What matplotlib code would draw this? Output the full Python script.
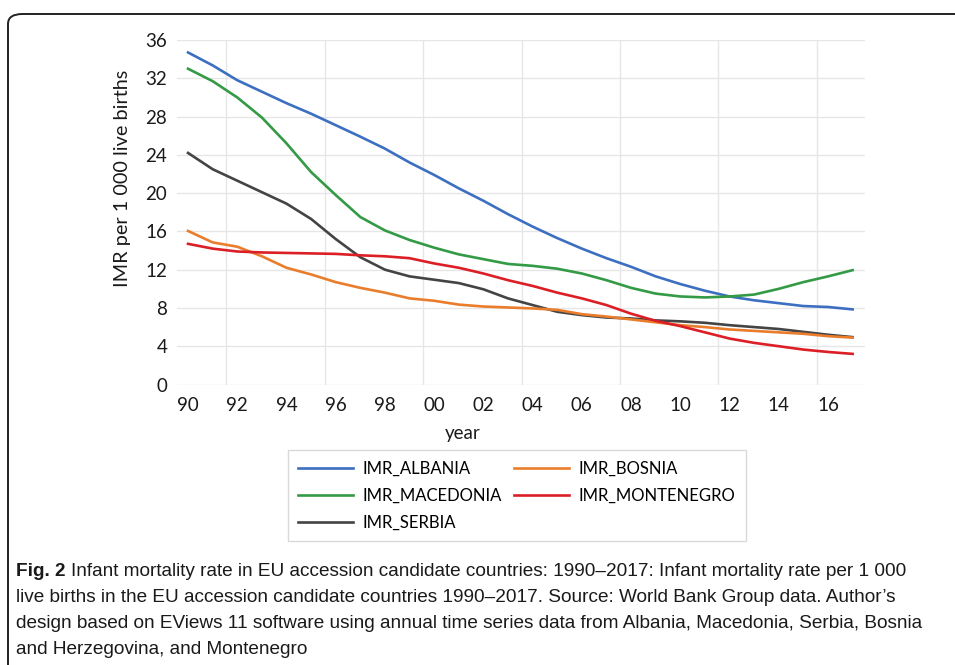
import numpy as np
import matplotlib.pyplot as plt
from matplotlib.patches import FancyBboxPatch

# IMR per 1 000 live births
years = np.arange(1990, 2018)

albania = [34.7, 33.35, 31.8, 30.6, 29.4, 28.3, 27.1, 25.9, 24.65, 23.2,
           21.9, 20.5, 19.2, 17.8, 16.5, 15.3, 14.2, 13.2, 12.3, 11.3,
           10.5, 9.8, 9.2, 8.8, 8.5, 8.2, 8.1, 7.85]
macedonia = [33.0, 31.7, 30.0, 27.9, 25.2, 22.2, 19.8, 17.5, 16.1, 15.1,
             14.3, 13.6, 13.1, 12.6, 12.4, 12.1, 11.6, 10.9, 10.1, 9.5,
             9.2, 9.1, 9.2, 9.4, 10.0, 10.7, 11.3, 11.95]
serbia = [24.2, 22.5, 21.3, 20.1, 18.9, 17.3, 15.2, 13.3, 12.0, 11.3,
          10.95, 10.6, 9.95, 9.0, 8.3, 7.6, 7.25, 7.0, 6.9, 6.7,
          6.6, 6.45, 6.2, 6.0, 5.8, 5.5, 5.2, 4.95]
bosnia = [16.05, 14.85, 14.4, 13.4, 12.2, 11.5, 10.7, 10.1, 9.6, 9.0,
          8.75, 8.35, 8.15, 8.05, 7.95, 7.8, 7.35, 7.1, 6.8, 6.5,
          6.2, 6.0, 5.75, 5.6, 5.45, 5.3, 5.05, 4.9]
montenegro = [14.7, 14.2, 13.9, 13.8, 13.75, 13.7, 13.65, 13.5, 13.4, 13.2,
              12.65, 12.2, 11.6, 10.9, 10.3, 9.6, 9.0, 8.3, 7.4, 6.65,
              6.1, 5.45, 4.8, 4.35, 4.0, 3.65, 3.4, 3.2]

series = {
    'IMR_ALBANIA': (albania, '#3d6fc1'),
    'IMR_MACEDONIA': (macedonia, '#339a45'),
    'IMR_SERBIA': (serbia, '#444444'),
    'IMR_BOSNIA': (bosnia, '#ea7d2c'),
    'IMR_MONTENEGRO': (montenegro, '#dc1f26'),
}

plt.rcParams['font.family'] = ['Lato', 'DejaVu Sans']

fig = plt.figure(figsize=(9.55, 6.65), dpi=100)
ax = fig.add_axes([0.1853, 0.4218, 0.7204, 0.518])

for name, (vals, col) in series.items():
    ax.plot(years, vals, color=col, lw=1.9, label=name, zorder=3)

ax.set_xlim(1989.55, 2017.5)
ax.set_ylim(0, 36)
ax.set_yticks(np.arange(0, 37, 4))
ax.set_xticks(np.arange(1990, 2017, 2))
ax.set_xticklabels(['%02d' % (y % 100) for y in range(1990, 2017, 2)])
ax.set_xticks(np.arange(1991.55, 2017, 4), minor=True)
ax.tick_params(axis='both', which='both', length=0, labelsize=13.5, colors='#1a1a1a')
ax.tick_params(axis='y', pad=7)
ax.tick_params(axis='x', pad=9)
ax.grid(axis='y', which='major', color='#e6e6e6', lw=1)
ax.grid(axis='x', which='minor', color='#e6e6e6', lw=1)
ax.set_axisbelow(True)
for s in ax.spines.values():
    s.set_visible(False)

fig.text(122 / 955, 1 - 178 / 665, 'IMR per 1 000 live births', rotation=90,
         ha='center', va='center', fontsize=14.3, color='#1a1a1a')
fig.text(463 / 955, 1 - 434 / 665, 'year', ha='center', va='center',
         fontsize=13.5, color='#1a1a1a')

fig.legend(loc='upper left', bbox_to_anchor=(288 / 955, 1 - 450 / 665), ncol=2,
           frameon=True, fancybox=False, edgecolor='#d9d9d9', framealpha=1,
           fontsize=12, handlelength=3.25, handletextpad=0.6, columnspacing=0.75,
           labelspacing=0.68, borderaxespad=0, borderpad=0.62)

# rounded figure frame
frame = FancyBboxPatch((8 / 955, -0.05), 1.1, 0.05 + 1 - 14 / 665,
                       boxstyle='round,pad=0,rounding_size=0.015',
                       transform=fig.transFigure, fill=False, ec='#222222', lw=1.4)
fig.patches.append(frame)

cap_font = ['Liberation Sans Narrow', 'Liberation Sans', 'DejaVu Sans']
lines = [
    'Infant mortality rate in EU accession candidate countries: 1990\u20132017: Infant mortality rate per 1 000',
    'live births in the EU accession candidate countries 1990\u20132017. Source: World Bank Group data. Author\u2019s',
    'design based on EViews 11 software using annual time series data from Albania, Macedonia, Serbia, Bosnia',
    'and Herzegovina, and Montenegro',
]
fig.text(16 / 955, 1 - 571 / 665, 'Fig. 2', fontsize=13.7, fontweight='bold',
         family=cap_font, va='center', ha='left', color='#1a1a1a')
fig.text(71 / 955, 1 - 571 / 665, lines[0], fontsize=13.7, family=cap_font,
         va='center', ha='left', color='#1a1a1a')
for i, ln in enumerate(lines[1:]):
    fig.text(16 / 955, 1 - (597 + 26 * i) / 665, ln, fontsize=13.7, family=cap_font,
             va='center', ha='left', color='#1a1a1a')

fig.savefig('out.png', dpi=100)
